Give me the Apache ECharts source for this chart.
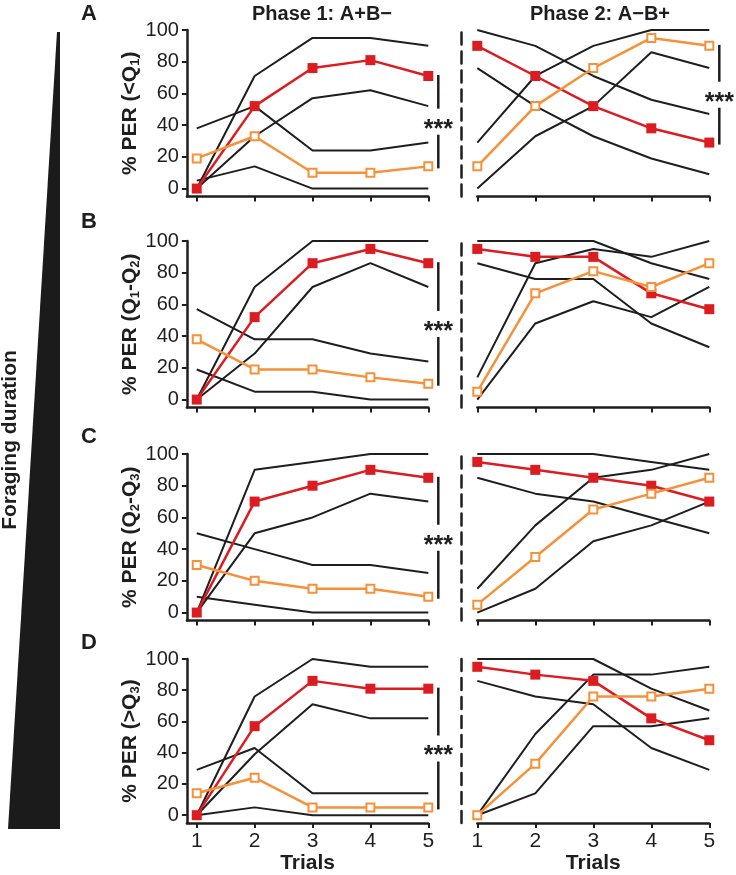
<!DOCTYPE html>
<html>
<head>
<meta charset="utf-8">
<script src="https://cdn.jsdelivr.net/npm/echarts@6/dist/echarts.min.js"></script>
<style>
html,body{margin:0;padding:0;background:#fff;}
#chart{width:736px;height:875px;}
</style>
</head>
<body>
<div id="chart"></div>
<script>
// ---------- DATA ----------
const trials = [1, 2, 3, 4, 5];
const yTicks = [0, 20, 40, 60, 80, 100];
const rowLetters = ['A', 'B', 'C', 'D'];
const rowNames = ['% PER (<Q{s|1})', '% PER (Q{s|1}-Q{s|2})', '% PER (Q{s|2}-Q{s|3})', '% PER (>Q{s|3})'];
const phaseTitles = ['Phase 1: A+B\u2212', 'Phase 2: A\u2212B+'];
const xName = 'Trials';
const sideLabel = 'Foraging duration';
const sigText = '***';

// Row A (< Q1)
const A1_red = [0, 52, 76, 81, 71];
const A1_redHi = [0, 71, 95, 95, 90];
const A1_redLo = [0, 33, 57, 62, 52];
const A1_orange = [19, 33, 10, 10, 14];
const A1_orangeHi = [38, 52, 24, 24, 29];
const A1_orangeLo = [5, 14, 0, 0, 0];
const A2_red = [90, 71, 52, 38, 29];
const A2_redHi = [100, 90, 71, 56, 47];
const A2_redLo = [76, 52, 33, 19, 9];
const A2_orange = [14, 52, 76, 95, 90];
const A2_orangeHi = [29, 71, 90, 100, 100];
const A2_orangeLo = [0, 33, 52, 86, 76];
// Row B (Q1-Q2)
const B1_red = [0, 52, 86, 95, 86];
const B1_redHi = [0, 71, 100, 100, 100];
const B1_redLo = [0, 29, 71, 86, 71];
const B1_orange = [38, 19, 19, 14, 10];
const B1_orangeHi = [57, 38, 38, 29, 24];
const B1_orangeLo = [19, 5, 5, 0, 0];
const B2_red = [95, 90, 90, 67, 57];
const B2_redHi = [100, 100, 100, 86, 76];
const B2_redLo = [86, 76, 76, 48, 33];
const B2_orange = [5, 67, 81, 71, 86];
const B2_orangeHi = [14, 86, 95, 90, 100];
const B2_orangeLo = [0, 48, 62, 52, 71];
// Row C (Q2-Q3)
const C1_red = [0, 70, 80, 90, 85];
const C1_redHi = [0, 90, 95, 100, 100];
const C1_redLo = [0, 50, 60, 75, 70];
const C1_orange = [30, 20, 15, 15, 10];
const C1_orangeHi = [50, 40, 30, 30, 25];
const C1_orangeLo = [10, 5, 0, 0, 0];
const C2_red = [95, 90, 85, 80, 70];
const C2_redHi = [100, 100, 100, 95, 90];
const C2_redLo = [85, 75, 70, 60, 50];
const C2_orange = [5, 35, 65, 75, 85];
const C2_orangeHi = [15, 55, 85, 90, 100];
const C2_orangeLo = [0, 15, 45, 55, 70];
// Row D (> Q3)
const D1_red = [0, 57, 86, 81, 81];
const D1_redHi = [0, 76, 100, 95, 95];
const D1_redLo = [0, 39, 71, 62, 62];
const D1_orange = [14, 24, 5, 5, 5];
const D1_orangeHi = [29, 43, 14, 14, 14];
const D1_orangeLo = [0, 5, 0, 0, 0];
const D2_red = [95, 90, 86, 62, 48];
const D2_redHi = [100, 100, 100, 81, 67];
const D2_redLo = [86, 76, 71, 43, 29];
const D2_orange = [0, 33, 76, 76, 81];
const D2_orangeHi = [0, 52, 90, 90, 95];
const D2_orangeLo = [0, 14, 57, 57, 62];

// significance brackets: [row, phase]
const sigPanels = [[0, 0], [0, 1], [1, 0], [2, 0], [3, 0]];

// ---------- BUILD ----------
const panels = [
  [[A1_red, A1_redHi, A1_redLo, A1_orange, A1_orangeHi, A1_orangeLo], [A2_red, A2_redHi, A2_redLo, A2_orange, A2_orangeHi, A2_orangeLo]],
  [[B1_red, B1_redHi, B1_redLo, B1_orange, B1_orangeHi, B1_orangeLo], [B2_red, B2_redHi, B2_redLo, B2_orange, B2_orangeHi, B2_orangeLo]],
  [[C1_red, C1_redHi, C1_redLo, C1_orange, C1_orangeHi, C1_orangeLo], [C2_red, C2_redHi, C2_redLo, C2_orange, C2_orangeHi, C2_orangeLo]],
  [[D1_red, D1_redHi, D1_redLo, D1_orange, D1_orangeHi, D1_orangeLo], [D2_red, D2_redHi, D2_redLo, D2_orange, D2_orangeHi, D2_orangeLo]]
];

const FONT = '"Liberation Sans", Arial, Helvetica, sans-serif';
const INK = '#1e1e1e';
const RED = '#db1c20';
const ORANGE = '#f6913a';
const rowTops = [30, 241, 454, 659];
const rowH = 166.5;
const phaseLeft = [186.9, 477.3];
const phaseW = [241.4, 232];
const phaseMin = [0.83, 1];

const grids = [], xAxes = [], yAxes = [], series = [];
const toXY = arr => trials.map((t, i) => [t, arr[i]]);

for (let r = 0; r < 4; r++) {
  for (let p = 0; p < 2; p++) {
    const g = r * 2 + p;
    const bottomRow = r === 3;
    grids.push({ left: phaseLeft[p], top: rowTops[r], width: phaseW[p], height: rowH, containLabel: false });
    xAxes.push({
      type: 'value', gridIndex: g, min: phaseMin[p], max: 5,
      axisLine: { show: true, onZero: false, lineStyle: { color: INK, width: 2.5 } },
      axisTick: { show: true, customValues: trials, length: 5, lineStyle: { color: INK, width: 2 } },
      axisLabel: { show: bottomRow, customValues: trials, margin: 8, fontSize: 21, fontFamily: FONT, color: INK },
      splitLine: { show: false },
      name: bottomRow ? xName : '', nameLocation: 'middle', nameGap: 30,
      nameTextStyle: { fontSize: 21, fontWeight: 'bold', fontFamily: FONT, color: INK }
    });
    if (p === 0) {
      yAxes.push({
        type: 'value', gridIndex: g, min: -5, max: 100,
        axisLine: { show: true, lineStyle: { color: INK, width: 2.5 } },
        axisTick: { show: true, customValues: yTicks, length: 5, lineStyle: { color: INK, width: 2 } },
        axisLabel: { show: true, customValues: yTicks, margin: 8, fontSize: 20, fontFamily: FONT, color: INK },
        splitLine: { show: false },
        name: rowNames[r], nameLocation: 'middle', nameGap: 45, nameRotate: 90,
        nameTextStyle: {
          fontSize: 21, fontWeight: 'bold', fontFamily: FONT, color: INK,
          rich: { s: { fontSize: 13, fontWeight: 'bold', fontFamily: FONT, color: INK, verticalAlign: 'bottom', padding: [10, 0, 0, 0] } }
        }
      });
    } else {
      yAxes.push({
        type: 'value', gridIndex: g, min: -5, max: 100, offset: 16,
        axisLine: { show: true, lineStyle: { color: INK, width: 2.5, type: [12, 7] } },
        axisTick: { show: false }, axisLabel: { show: false }, splitLine: { show: false }
      });
    }
    const [red, redHi, redLo, orange, orangeHi, orangeLo] = panels[r][p];
    [redHi, redLo, orangeHi, orangeLo].forEach(arr => {
      series.push({
        type: 'line', xAxisIndex: g, yAxisIndex: g, data: toXY(arr), symbol: 'none',
        lineStyle: { color: INK, width: 2 }, silent: true, z: 2
      });
    });
    series.push({
      type: 'line', xAxisIndex: g, yAxisIndex: g, data: toXY(red), symbol: 'rect', symbolSize: 10,
      lineStyle: { color: RED, width: 2.5 }, itemStyle: { color: RED }, silent: true, z: 3
    });
    series.push({
      type: 'line', xAxisIndex: g, yAxisIndex: g, data: toXY(orange), symbol: 'rect', symbolSize: 8,
      lineStyle: { color: ORANGE, width: 2.5 }, itemStyle: { color: '#fff', borderColor: ORANGE, borderWidth: 2 }, silent: true, z: 4
    });
  }
}

const chart = echarts.init(document.getElementById('chart'), null, { renderer: 'canvas' });
chart.setOption({
  animation: false,
  backgroundColor: '#fff',
  grid: grids, xAxis: xAxes, yAxis: yAxes, series: series
});

// ---------- ANNOTATIONS (anchored to data via convertToPixel) ----------
const graphics = [];
graphics.push({ type: 'polygon', shape: { points: [[57, 32], [60, 32], [60, 829], [8, 829]] }, style: { fill: '#1b1b1b' }, silent: true });
graphics.push({ type: 'text', x: 10, y: 440, rotation: Math.PI / 2,
  style: { text: sideLabel, fontSize: 21, fontWeight: 'bold', fontFamily: FONT, fill: INK, align: 'center', verticalAlign: 'middle' } });
const letterY = [14, 222, 437, 643];
rowLetters.forEach((L, r) => graphics.push({ type: 'text', x: 89, y: letterY[r],
  style: { text: L, fontSize: 22, fontWeight: 'bold', fontFamily: FONT, fill: INK, align: 'center', verticalAlign: 'middle' } }));
const titleX = [322, 600];
phaseTitles.forEach((t, p) => graphics.push({ type: 'text', x: titleX[p], y: 14,
  style: { text: t, fontSize: 20, fontWeight: 'bold', fontFamily: FONT, fill: INK, align: 'center', verticalAlign: 'middle' } }));
sigPanels.forEach(([r, p]) => {
  const g = r * 2 + p;
  const [red, , , orange] = panels[r][p];
  const a = chart.convertToPixel({ gridIndex: g }, [5, red[4]]);
  const b = chart.convertToPixel({ gridIndex: g }, [5, orange[4]]);
  const x = a[0] + 10;
  const y1 = Math.min(a[1], b[1]) - 1, y2 = Math.max(a[1], b[1]) + 2;
  const mid = (y1 + y2) / 2;
  const gap = 13;
  graphics.push({ type: 'line', shape: { x1: x, y1: y1, x2: x, y2: mid - gap }, style: { stroke: INK, lineWidth: 2.5 }, silent: true });
  graphics.push({ type: 'line', shape: { x1: x, y1: mid + gap, x2: x, y2: y2 }, style: { stroke: INK, lineWidth: 2.5 }, silent: true });
  graphics.push({ type: 'text', x: x, y: mid + 8,
    style: { text: sigText, fontSize: 25, fontWeight: 'bold', fontFamily: FONT, fill: INK, align: 'center', verticalAlign: 'middle' } });
});
chart.setOption({ graphic: graphics });
</script>
</body>
</html>
